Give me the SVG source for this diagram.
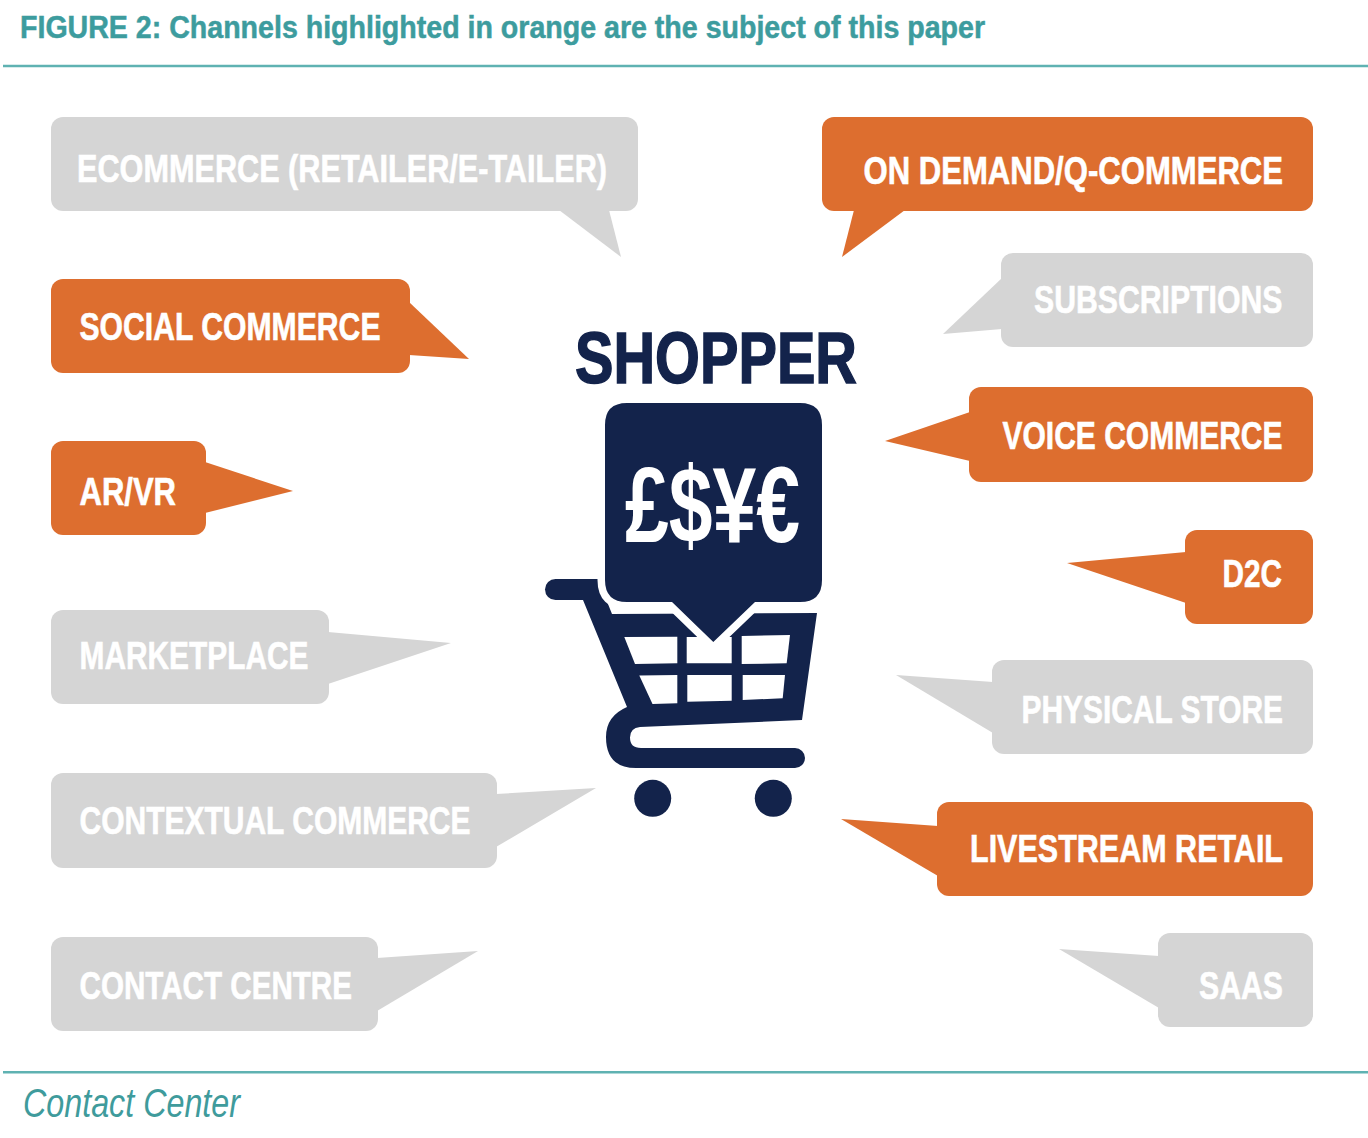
<svg xmlns="http://www.w3.org/2000/svg" width="1368" height="1138" viewBox="0 0 1368 1138">
<style>
.gray{fill:#d5d5d5}
.orange{fill:#dd6e2f}
.lbl{font-family:"Liberation Sans","Arimo",sans-serif;font-weight:bold;font-size:38.5px;fill:#ffffff;stroke:#ffffff;stroke-width:0.6}
.rt{text-anchor:end}
.navy{fill:#13234b}
.title{font-family:"Liberation Sans","Arimo",sans-serif;font-weight:bold;font-size:31px;fill:#3d9c9e;stroke:#3d9c9e;stroke-width:0.5}
.rule{stroke:#5fb2b2;stroke-width:2.5;fill:none}
.foot{font-family:"Liberation Sans","Arimo",sans-serif;font-style:italic;font-size:41px;fill:#3f9b9c}
</style>
<rect width="1368" height="1138" fill="#ffffff"/>

<g id="header">
<text class="title" x="20" y="38" textLength="965" lengthAdjust="spacingAndGlyphs">FIGURE 2: Channels highlighted in orange are the subject of this paper</text>
<line class="rule" x1="3" y1="66" x2="1368" y2="66"/>
</g>

<!-- Left column -->
<g id="ecommerce">
<rect class="gray" x="51" y="117" width="587" height="94" rx="12"/>
<polygon class="gray" points="559,210 609,210 621,257"/>
<text class="lbl" x="77" y="181.5" font-size="37" textLength="530" lengthAdjust="spacingAndGlyphs">ECOMMERCE (RETAILER/E-TAILER)</text>
</g>
<g id="social-commerce">
<rect class="orange" x="51" y="279" width="359" height="94" rx="12"/>
<polygon class="orange" points="409,302 469,359 409,355"/>
<text class="lbl" x="79.5" y="340" textLength="301" lengthAdjust="spacingAndGlyphs">SOCIAL COMMERCE</text>
</g>
<g id="ar-vr">
<rect class="orange" x="51" y="441" width="155" height="94" rx="12"/>
<polygon class="orange" points="205,462 293,491 205,513"/>
<text class="lbl" x="79.5" y="505" textLength="96.5" lengthAdjust="spacingAndGlyphs">AR/VR</text>
</g>
<g id="marketplace">
<rect class="gray" x="51" y="610" width="278" height="94" rx="12"/>
<polygon class="gray" points="328,632 451,643 328,684"/>
<text class="lbl" x="79.5" y="669" textLength="229" lengthAdjust="spacingAndGlyphs">MARKETPLACE</text>
</g>
<g id="contextual-commerce">
<rect class="gray" x="51" y="773" width="446" height="95" rx="12"/>
<polygon class="gray" points="496,794 596,788 496,847"/>
<text class="lbl" x="79.5" y="834" textLength="391" lengthAdjust="spacingAndGlyphs">CONTEXTUAL COMMERCE</text>
</g>
<g id="contact-centre">
<rect class="gray" x="51" y="937" width="327" height="94" rx="12"/>
<polygon class="gray" points="377,958 478,951 377,1011"/>
<text class="lbl" x="79.5" y="999" textLength="272.5" lengthAdjust="spacingAndGlyphs">CONTACT CENTRE</text>
</g>

<!-- Right column -->
<g id="on-demand">
<rect class="orange" x="822" y="117" width="491" height="94" rx="12"/>
<polygon class="orange" points="854,210 905,210 842,257"/>
<text class="lbl" transform="translate(863.5,184) scale(0.84,1)" x="0" y="0" font-size="37" textLength="499.4" lengthAdjust="spacingAndGlyphs">ON DEMAND/Q-COMMERCE</text>
</g>
<g id="subscriptions">
<rect class="gray" x="1001" y="253" width="312" height="94" rx="12"/>
<polygon class="gray" points="1002,278 943,334 1002,329"/>
<text class="lbl rt" x="1282.5" y="312.5" textLength="248.5" lengthAdjust="spacingAndGlyphs">SUBSCRIPTIONS</text>
</g>
<g id="voice-commerce">
<rect class="orange" x="969" y="387" width="344" height="95" rx="12"/>
<polygon class="orange" points="970,412 885,441 970,461"/>
<text class="lbl rt" x="1282.5" y="449.3" textLength="280" lengthAdjust="spacingAndGlyphs">VOICE COMMERCE</text>
</g>
<g id="d2c">
<rect class="orange" x="1185" y="530" width="128" height="94" rx="12"/>
<polygon class="orange" points="1186,552 1067,563 1186,603"/>
<text class="lbl rt" x="1282" y="586.5" textLength="59.5" lengthAdjust="spacingAndGlyphs">D2C</text>
</g>
<g id="physical-store">
<rect class="gray" x="992" y="660" width="321" height="94" rx="12"/>
<polygon class="gray" points="993,682 896,675 993,733"/>
<text class="lbl rt" x="1283" y="723.3" textLength="261.5" lengthAdjust="spacingAndGlyphs">PHYSICAL STORE</text>
</g>
<g id="livestream-retail">
<rect class="orange" x="937" y="802" width="376" height="94" rx="12"/>
<polygon class="orange" points="938,826 841,819 938,876"/>
<text class="lbl rt" x="1283" y="861.7" textLength="313" lengthAdjust="spacingAndGlyphs">LIVESTREAM RETAIL</text>
</g>
<g id="saas">
<rect class="gray" x="1158" y="933" width="155" height="94" rx="12"/>
<polygon class="gray" points="1159,956 1059,949 1159,1008"/>
<text class="lbl rt" x="1283" y="999.3" textLength="84" lengthAdjust="spacingAndGlyphs">SAAS</text>
</g>

<!-- Center: shopper -->
<g id="shopper">
<text x="575" y="383.3" font-family="'Liberation Sans','Arimo',sans-serif" font-weight="bold" font-size="72" fill="#13234b" stroke="#13234b" stroke-width="1.5" textLength="282" lengthAdjust="spacingAndGlyphs">SHOPPER</text>
<!-- cart -->
<rect class="navy" x="545" y="579" width="60" height="21" rx="10.5"/>
<path class="navy" d="M 590 579 L 598 579 L 612 614 L 817 613 L 802 720 L 640 727 Q 630 728 630 737.5 Q 630 748 641 748 L 795 748 A 10 10 0 0 1 795 768 L 636 768 Q 606 768 606 737 Q 606 716 627 707 L 583 600 L 590 600 Z"/>
<g fill="#ffffff">
<polygon points="624.3,637 677.3,636.7 677.3,663.3 635,664"/>
<polygon points="686.7,637 731.7,637 731.7,663.3 686.7,663.3"/>
<polygon points="741.7,636 790,635 786.7,663.3 741.7,664"/>
<polygon points="639.3,675.5 677.3,675 677.3,703.3 652.5,704"/>
<polygon points="687.3,675 731.7,675 731.7,700.7 687.3,701.7"/>
<polygon points="742.7,675 785,675 782.7,698.3 742.7,700"/>
</g>
<circle class="navy" cx="652.7" cy="798.3" r="18.5"/>
<circle class="navy" cx="773.3" cy="798.3" r="18.5"/>
<!-- speech bubble -->
<path class="navy" stroke="#ffffff" stroke-width="15" stroke-linejoin="miter" paint-order="stroke" d="M 627 403 H 800 Q 822 403 822 425 V 580 Q 822 602 800 602 H 755 L 713.3 642 L 672 602 H 627 Q 605 602 605 580 V 425 Q 605 403 627 403 Z"/>
<text x="625" y="541.7" font-family="'Liberation Sans','Arimo',sans-serif" font-weight="bold" font-size="108" fill="#ffffff" textLength="175" lengthAdjust="spacingAndGlyphs">£$¥€</text>
</g>

<g id="footer">
<line class="rule" x1="3" y1="1072.3" x2="1368" y2="1072.3"/>
<text class="foot" x="23" y="1116.7" textLength="217" lengthAdjust="spacingAndGlyphs">Contact Center</text>
</g>
</svg>
